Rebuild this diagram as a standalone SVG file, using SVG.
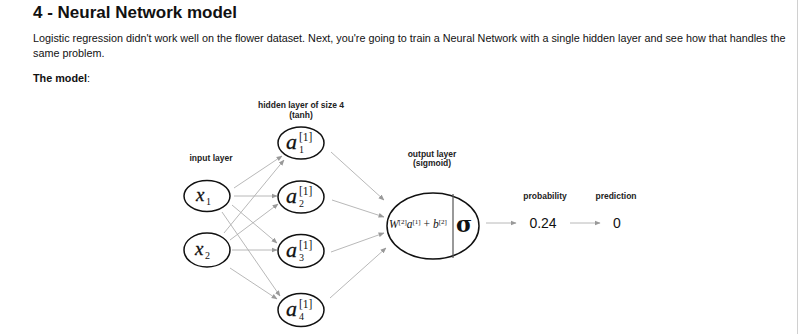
<svg xmlns="http://www.w3.org/2000/svg" width="800" height="334" viewBox="0 0 800 334">
<defs>
<style>
.t{font-family:"Liberation Sans",Arial,sans-serif;fill:#111}
.lbl{font-family:"Liberation Sans",Arial,sans-serif;font-weight:bold;font-size:8.5px;fill:#222;text-anchor:middle}
.node{fill:#fff;stroke:#111;stroke-width:1.5}
.v{font-family:"Liberation Serif","DejaVu Serif",serif;font-style:italic;fill:#111;stroke:#111;stroke-width:0.3}
.d{font-family:"Liberation Serif","DejaVu Serif",serif;font-style:normal;fill:#111}
.c{stroke:#b0b0b0;stroke-width:0.9;fill:none;marker-end:url(#ah)}
</style>
<marker id="ah" viewBox="0 0 10 10" refX="9" refY="5" markerWidth="6" markerHeight="6" orient="auto" markerUnits="userSpaceOnUse">
<path d="M0,1 L10,5 L0,9 z" fill="#999"/>
</marker>
</defs>
<rect width="800" height="334" fill="#fff"/>
<line x1="797.5" y1="0" x2="797.5" y2="334" stroke="#d0d0d0" stroke-width="1"/>
<text class="t" x="33" y="18" font-size="17" font-weight="bold">4 - Neural Network model</text>
<text class="t" x="33" y="42" font-size="10.8" fill="#222">Logistic regression didn't work well on the flower dataset. Next, you're going to train a Neural Network with a single hidden layer and see how that handles the</text>
<text class="t" x="33" y="57" font-size="10.8">same problem.</text>
<text class="t" x="33" y="82" font-size="10.8" font-weight="bold">The model<tspan font-weight="normal">:</tspan></text>

<text class="lbl" x="301" y="108">hidden layer of size 4</text>
<text class="lbl" x="301" y="118">(tanh)</text>
<text class="lbl" x="211" y="161">input layer</text>
<text class="lbl" x="432" y="157">output layer</text>
<text class="lbl" x="432" y="166">(sigmoid)</text>
<text class="lbl" x="545" y="199">probability</text>
<text class="lbl" x="616" y="199">prediction</text>

<g id="connectors">
<line class="c" x1="234" y1="188" x2="282" y2="156"/>
<line class="c" x1="234" y1="196" x2="277" y2="196"/>
<line class="c" x1="232" y1="205" x2="277" y2="243"/>
<line class="c" x1="222" y1="212" x2="280" y2="296"/>
<line class="c" x1="224" y1="233" x2="284" y2="160"/>
<line class="c" x1="230" y1="240" x2="278" y2="204"/>
<line class="c" x1="232" y1="250" x2="277" y2="250"/>
<line class="c" x1="230" y1="268" x2="277" y2="299"/>
<line class="c" x1="331" y1="152" x2="384" y2="200"/>
<line class="c" x1="332" y1="200" x2="384" y2="217"/>
<line class="c" x1="331" y1="252" x2="384" y2="233"/>
<line class="c" x1="330" y1="298" x2="386" y2="248"/>
<line class="c" x1="486" y1="223" x2="516" y2="223"/>
<line class="c" x1="570" y1="223" x2="600" y2="223"/>
</g>

<g id="x1">
<ellipse class="node" cx="207" cy="196" rx="23" ry="15.5"/>
<text class="v" x="196" y="201" font-size="19">x</text>
<text class="d" x="206" y="205" font-size="10">1</text>
</g>
<g id="x2">
<ellipse class="node" cx="207" cy="250" rx="23" ry="17"/>
<text class="v" x="195" y="255" font-size="19">x</text>
<text class="d" x="205" y="259" font-size="10">2</text>
</g>
<g id="a1">
<ellipse class="node" cx="301" cy="143" rx="23" ry="16"/>
<text class="v" x="286" y="149" font-size="22">a</text>
<text class="d" x="299" y="153" font-size="10">1</text>
<text class="d" x="299" y="141" font-size="11.5">[1]</text>
</g>
<g id="a2">
<ellipse class="node" cx="301" cy="197" rx="23" ry="16"/>
<text class="v" x="286" y="203" font-size="22">a</text>
<text class="d" x="299" y="207" font-size="10">2</text>
<text class="d" x="299" y="195" font-size="11.5">[1]</text>
</g>
<g id="a3">
<ellipse class="node" cx="301" cy="251" rx="23" ry="16.5"/>
<text class="v" x="286" y="257" font-size="22">a</text>
<text class="d" x="299" y="261" font-size="10">3</text>
<text class="d" x="299" y="249" font-size="11.5">[1]</text>
</g>
<g id="a4">
<ellipse class="node" cx="301" cy="310" rx="23" ry="16.5"/>
<text class="v" x="286" y="316" font-size="22">a</text>
<text class="d" x="299" y="320" font-size="10">4</text>
<text class="d" x="299" y="308" font-size="11.5">[1]</text>
</g>
<g id="output">
<ellipse class="node" cx="433" cy="226" rx="46" ry="33"/>
<line x1="453" y1="194" x2="453" y2="258" stroke="#555" stroke-width="1.2"/>
<text class="d" x="389" y="228" font-size="11.5"><tspan font-style="italic">W</tspan><tspan font-size="7" dy="-4">[2]</tspan><tspan font-style="italic" dy="4">a</tspan><tspan font-size="7" dy="-4">[1]</tspan><tspan dy="4"> + </tspan><tspan font-style="italic">b</tspan><tspan font-size="7" dy="-4">[2]</tspan></text>
<text x="464" y="232" font-family="'DejaVu Serif',serif" font-size="22" font-weight="bold" text-anchor="middle" fill="#111">σ</text>
</g>
<g id="prob">
<text class="t" x="543" y="228" font-size="14" text-anchor="middle" fill="#333">0.24</text>
</g>
<g id="pred">
<text class="t" x="617" y="228" font-size="14" text-anchor="middle" fill="#333">0</text>
</g>
</svg>
